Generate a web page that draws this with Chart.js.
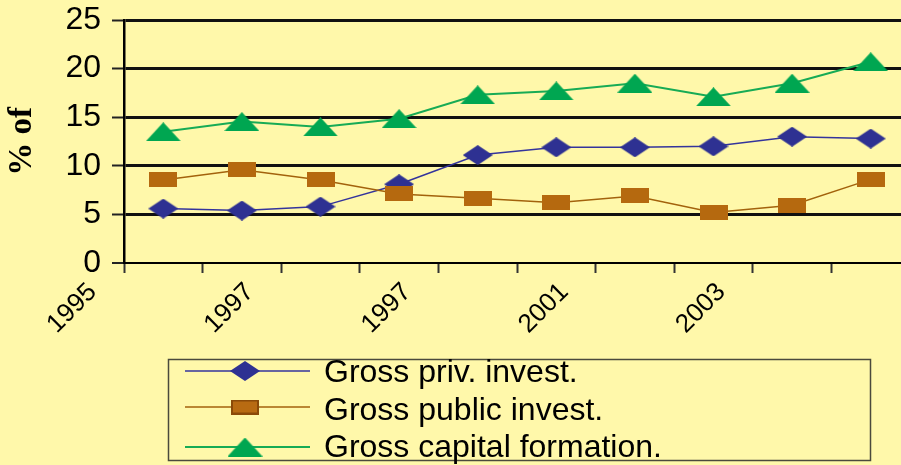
<!DOCTYPE html>
<html>
<head>
<meta charset="utf-8">
<script src="https://cdn.jsdelivr.net/npm/chart.js@4/dist/chart.umd.min.js"></script>
<style>
  html, body { margin: 0; padding: 0; width: 901px; height: 465px; overflow: hidden; background: #FFF8AA; }
  #wrap { position: relative; width: 910px; height: 465px; }
</style>
</head>
<body>
<div id="wrap"><canvas id="chart" width="910" height="465"></canvas></div>
<script>
// Observation years (one point per year)
const years = [1996, 1997, 1998, 1999, 2000, 2001, 2002, 2003, 2004, 2005];

// Series, % of GDP
const grossPrivInvest   = [5.6, 5.4, 5.8, 8.1, 11.1, 11.9, 11.9, 12.0, 13.0, 12.8];
const grossPublicInvest = [8.55, 9.6, 8.55, 7.1, 6.65, 6.2, 6.9, 5.2, 5.95, 8.6];
const grossCapFormation = [13.5, 14.55, 14.0, 14.85, 17.3, 17.7, 18.5, 17.1, 18.5, 20.7];

// Axis text
const xTickLabels = ['1995', '1997', '1997', '2001', '2003'];
const yTickValues = [0, 5, 10, 15, 20, 25];
const yTitle = '% of';
const seriesNames = ['Gross priv. invest.', 'Gross public invest.', 'Gross capital formation.'];

// x labels sit on every second year, starting the year before the first point
const xLabelYears = xTickLabels.map((_, i) => years[0] - 1 + 2 * i);
// tick marks sit between years
const xBoundaries = years.map(y => y - 0.5).concat([years[years.length - 1] + 0.5]);

const SANS = '"Liberation Sans", Arial, sans-serif';

// Marker shapes drawn onto small canvases
function marker(shape, w, h, fill, stroke, strokeW) {
  const c = document.createElement('canvas');
  c.width = w; c.height = h;
  const g = c.getContext('2d');
  g.fillStyle = fill;
  g.beginPath();
  if (shape === 'diamond') {
    g.moveTo(w / 2, 0); g.lineTo(w, h / 2); g.lineTo(w / 2, h); g.lineTo(0, h / 2);
  } else if (shape === 'triangle') {
    g.moveTo(w / 2, 0); g.lineTo(w, h); g.lineTo(0, h);
  } else {
    g.rect(0, 0, w, h);
  }
  g.closePath();
  g.fill();
  if (stroke) {
    g.strokeStyle = stroke; g.lineWidth = strokeW;
    g.strokeRect(strokeW / 2, strokeW / 2, w - strokeW, h - strokeW);
  }
  return c;
}

const BLUE = '#2E3192', BLUE_LINE = '#34349C';
const BROWN = '#B5690F', BROWN_LINE = '#A3620C';
const GREEN = '#00A651', GREEN_LINE = '#17AB55';

const diamondMk = marker('diamond', 30, 20, BLUE);
const squareMk = marker('square', 28, 15, BROWN);
const triangleMk = marker('triangle', 35, 19, GREEN);
const squareLegendMk = marker('square', 28, 15, '#B86B12', '#8A4A08', 2);

const pts = vals => vals.map((v, i) => ({ x: years[i], y: v }));

// Boxed legend under the axis
const boxLegend = {
  id: 'boxLegend',
  afterDraw(chart) {
    const ctx = chart.ctx;
    ctx.save();
    ctx.strokeStyle = '#4A4A3C';
    ctx.lineWidth = 1.5;
    ctx.strokeRect(168.5, 359.5, 702, 101);
    const rows = [
      { y: 371, base: 382, mk: diamondMk, color: BLUE_LINE, lw: 1.5 },
      { y: 407, base: 420, mk: squareLegendMk, color: BROWN_LINE, lw: 1.5 },
      { y: 447, base: 457, mk: triangleMk, color: GREEN_LINE, lw: 2 }
    ];
    rows.forEach((r, i) => {
      ctx.strokeStyle = r.color;
      ctx.lineWidth = r.lw;
      ctx.beginPath();
      ctx.moveTo(185, r.y); ctx.lineTo(310, r.y);
      ctx.stroke();
      ctx.drawImage(r.mk, 245 - r.mk.width / 2, r.y - r.mk.height / 2);
      ctx.fillStyle = '#000';
      ctx.font = '32px ' + SANS;
      ctx.textBaseline = 'alphabetic';
      ctx.textAlign = 'left';
      ctx.fillText(seriesNames[i], 324, r.base);
    });
    ctx.restore();
  }
};

const noOverflow = s => { s.paddingTop = 0; s.paddingBottom = 0; s.paddingLeft = 0; s.paddingRight = 0; };

new Chart(document.getElementById('chart'), {
  type: 'line',
  data: {
    datasets: [
      {
        label: seriesNames[0], data: pts(grossPrivInvest),
        borderColor: BLUE_LINE, borderWidth: 1.5, pointStyle: diamondMk,
        pointRadius: 10, tension: 0, order: 1
      },
      {
        label: seriesNames[1], data: pts(grossPublicInvest),
        borderColor: BROWN_LINE, borderWidth: 1.5, pointStyle: squareMk,
        pointRadius: 10, tension: 0, order: 0
      },
      {
        label: seriesNames[2], data: pts(grossCapFormation),
        borderColor: GREEN_LINE, borderWidth: 2, pointStyle: triangleMk,
        pointRadius: 10, tension: 0, order: 2
      }
    ]
  },
  options: {
    responsive: false,
    animation: false,
    events: [],
    layout: { autoPadding: false, padding: { top: 20, left: 0, right: 0, bottom: 0 } },
    plugins: { legend: { display: false }, tooltip: { enabled: false } },
    scales: {
      x: {
        type: 'linear', position: 'bottom', weight: 0,
        min: xBoundaries[0], max: xBoundaries[xBoundaries.length - 1],
        afterBuildTicks: s => { s.ticks = xBoundaries.map(v => ({ value: v })); },
        afterFit: s => { s.height = 10; noOverflow(s); },
        ticks: { display: false },
        grid: { drawOnChartArea: false, drawTicks: true, tickLength: 10, tickWidth: 2, tickColor: '#333', color: '#333' },
        border: { display: true, color: '#000', width: 2 }
      },
      xl: {
        type: 'linear', position: 'bottom', weight: 1,
        min: xBoundaries[0], max: xBoundaries[xBoundaries.length - 1],
        afterBuildTicks: s => { s.ticks = xLabelYears.map(v => ({ value: v })); },
        afterFit: s => { s.height = 192; noOverflow(s); },
        ticks: {
          autoSkip: false, minRotation: 45, maxRotation: 45, padding: -4, labelOffset: 8, color: '#000',
          font: { family: SANS, size: 26 },
          callback: (v, i) => xTickLabels[i]
        },
        grid: { display: false },
        border: { display: false }
      },
      y: {
        min: 0, max: 25,
        afterBuildTicks: s => { s.ticks = yTickValues.map(v => ({ value: v })); },
        afterFit: s => { s.width = 124; noOverflow(s); },
        ticks: {
          padding: 11, color: '#000',
          font: { family: SANS, size: 32 }
        },
        grid: {
          color: '#111',
          lineWidth: c => (c.tick && c.tick.value === 0 ? 0 : 3),
          tickLength: 12, tickWidth: 2, tickColor: '#222'
        },
        border: { display: true, color: '#000', width: 2.5 },
        title: {
          display: true, text: yTitle, color: '#000',
          font: { family: '"Liberation Serif", "Times New Roman", serif', size: 33, weight: 'bold' },
          padding: { top: 3, bottom: 0 }
        }
      }
    }
  },
  plugins: [boxLegend]
});
</script>
</body>
</html>
